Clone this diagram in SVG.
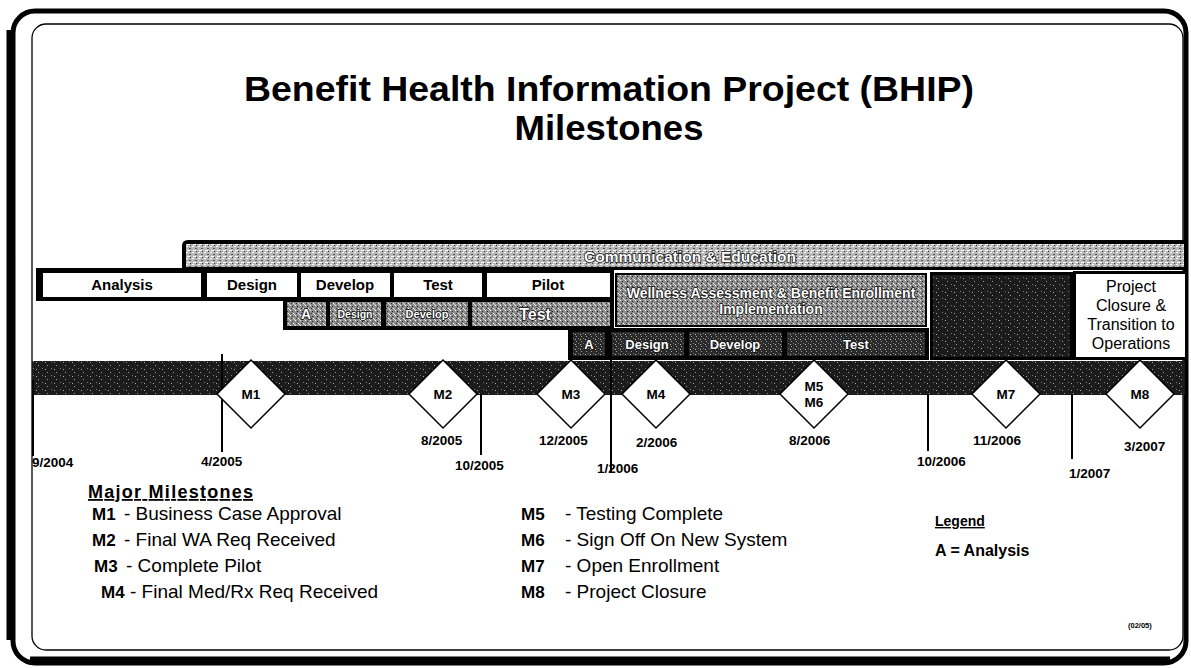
<svg xmlns="http://www.w3.org/2000/svg" width="1191" height="668" viewBox="0 0 1191 668">
<style>
text{font-family:"Liberation Sans",Arial,sans-serif;fill:#000}
.b{font-weight:bold}
.ph{font-size:15px;font-weight:bold;text-anchor:middle}
.gt{font-size:11px;font-weight:bold;text-anchor:middle;fill:#fff;stroke:#111;stroke-width:1.6px;paint-order:stroke}
.ms{font-size:13.5px;font-weight:bold;text-anchor:middle}
.dt{font-size:13.5px;font-weight:bold}
.li{font-size:19px}
.vl{stroke:#000;stroke-width:2}
.wb{fill:#fff;stroke:none}
</style>
<defs>
<pattern id="pl" width="6" height="6" patternUnits="userSpaceOnUse">
<rect width="6" height="6" fill="#b8b8b8"/>
<rect x="0" y="0" width="2" height="1" fill="#fff"/><rect x="3" y="2" width="2" height="1" fill="#555"/><rect x="1" y="4" width="3" height="1" fill="#fff"/><rect x="4" y="5" width="1" height="1" fill="#333"/>
</pattern>
<pattern id="pm" width="5" height="5" patternUnits="userSpaceOnUse">
<rect width="5" height="5" fill="#8c8c8c"/>
<rect x="0" y="0" width="1" height="1" fill="#fff"/><rect x="2" y="1" width="1" height="1" fill="#222"/><rect x="3" y="3" width="1" height="1" fill="#eee"/><rect x="1" y="3" width="1" height="1" fill="#333"/><rect x="4" y="4" width="1" height="1" fill="#ddd"/>
</pattern>
<pattern id="pd" width="5" height="5" patternUnits="userSpaceOnUse">
<rect width="5" height="5" fill="#2a2a2a"/>
<rect x="1" y="1" width="1" height="1" fill="#999"/><rect x="3" y="3" width="1" height="1" fill="#777"/><rect x="0" y="4" width="1" height="1" fill="#bbb"/>
</pattern>
<pattern id="pt" width="9" height="7" patternUnits="userSpaceOnUse">
<rect width="9" height="7" fill="#1c1c1c"/>
<rect x="2" y="1" width="1" height="1" fill="#999"/><rect x="6" y="4" width="1" height="1" fill="#777"/><rect x="0" y="5" width="1" height="1" fill="#aaa"/>
</pattern>
</defs>

<rect width="1191" height="668" fill="#fff"/>
<!-- frame -->
<rect x="13" y="11" width="1173" height="652" rx="22" fill="none" stroke="#000" stroke-width="5"/>
<path d="M10,30 V640" stroke="#000" stroke-width="7"/>
<path d="M30,659 H1170" stroke="#000" stroke-width="5"/>
<rect x="32" y="24" width="1151" height="626" rx="14" fill="none" stroke="#000" stroke-width="1.3"/>

<g id="title">
<text x="609" y="101" class="b" font-size="34.5" text-anchor="middle" textLength="730" lengthAdjust="spacingAndGlyphs">Benefit Health Information Project (BHIP)</text>
<text x="609" y="140" class="b" font-size="34.5" text-anchor="middle" textLength="189" lengthAdjust="spacingAndGlyphs">Milestones</text>
</g>

<g id="comm">
<path d="M182,270 V246 Q182,240 188,240 H1187 V270 Z" fill="#000"/>
<rect x="186" y="244" width="998" height="23" fill="url(#pl)"/>
<text x="690" y="262" class="gt" style="font-size:15.5px">Communication &amp; Education</text>
</g>

<rect x="36" y="268" width="578" height="33" fill="#000"/>
<rect x="283" y="298" width="331" height="32" fill="#000"/>
<rect x="568" y="328" width="361" height="32" fill="#000"/>

<g id="analysis"><rect x="43" y="273" width="158" height="24" class="wb"/><text x="122" y="290" class="ph">Analysis</text></g>
<g id="design"><rect x="207" y="273" width="90" height="24" class="wb"/><text x="252" y="290" class="ph">Design</text></g>
<g id="develop"><rect x="301" y="273" width="89" height="24" class="wb"/><text x="345" y="290" class="ph">Develop</text></g>
<g id="test"><rect x="394" y="273" width="88" height="24" class="wb"/><text x="438" y="290" class="ph">Test</text></g>
<g id="pilot"><rect x="487" y="273" width="123" height="24" class="wb"/><text x="548" y="290" class="ph">Pilot</text></g>

<g id="r3a"><rect x="287" y="302" width="39" height="24" fill="url(#pm)"/><text x="306" y="319" class="gt" style="font-size:14px">A</text></g>
<g id="r3design"><rect x="330" y="302" width="51" height="24" fill="url(#pm)"/><text x="355" y="318" class="gt" style="font-size:10.5px">Design</text></g>
<g id="r3develop"><rect x="386" y="302" width="82" height="24" fill="url(#pm)"/><text x="427" y="318" class="gt" style="font-size:11px">Develop</text></g>
<g id="r3test"><rect x="472" y="302" width="138" height="24" fill="url(#pm)"/><text x="535" y="320" class="gt" style="font-size:16px">Test</text></g>

<g id="wellness"><rect x="615" y="273" width="312" height="54" fill="#000"/><rect x="617" y="275" width="308" height="50" fill="url(#pm)"/>
<text x="771" y="298" class="gt" style="font-size:14px">Wellness Assessment &amp; Benefit Enrollment</text>
<text x="771" y="314" class="gt" style="font-size:14px">Implementation</text></g>

<g id="r4a"><rect x="573" y="332" width="32" height="24" fill="url(#pd)"/><text x="589" y="349" class="gt" style="font-size:13px">A</text></g>
<g id="r4design"><rect x="611" y="332" width="73" height="24" fill="url(#pd)"/><text x="647" y="349" class="gt" style="font-size:13px">Design</text></g>
<g id="r4develop"><rect x="689" y="332" width="93" height="24" fill="url(#pd)"/><text x="735" y="349" class="gt" style="font-size:13px">Develop</text></g>
<g id="r4test"><rect x="787" y="332" width="138" height="24" fill="url(#pd)"/><text x="856" y="349" class="gt" style="font-size:13px">Test</text></g>

<g id="enroll"><rect x="930" y="272" width="143" height="88" fill="#000"/><rect x="933" y="275" width="137" height="82" fill="url(#pt)"/></g>

<g id="closure"><rect x="1073" y="271" width="114" height="89" fill="#000"/><rect x="1076" y="274" width="109" height="83" fill="#fff"/>
<text x="1131" y="292" text-anchor="middle" font-size="16">Project</text>
<text x="1131" y="311" text-anchor="middle" font-size="16">Closure &amp;</text>
<text x="1131" y="330" text-anchor="middle" font-size="16">Transition to</text>
<text x="1131" y="349" text-anchor="middle" font-size="16">Operations</text></g>

<rect x="32" y="361" width="1153" height="34" fill="url(#pt)"/>

<g id="connectors">
<line x1="33" y1="380" x2="33" y2="456" class="vl"/>
<line x1="222" y1="354" x2="222" y2="452" class="vl"/>
<line x1="481" y1="394" x2="481" y2="455" class="vl"/>
<line x1="611" y1="335" x2="611" y2="472" class="vl"/>
<line x1="928" y1="394" x2="928" y2="451" class="vl"/>
<line x1="1072" y1="394" x2="1072" y2="459" class="vl"/>
</g>

<g id="m1"><polygon points="251,360 285,394 251,428 217,394" fill="#fff" stroke="#000" stroke-width="1.5"/><text x="251" y="399" class="ms">M1</text></g>
<g id="m2"><polygon points="443,360 477,394 443,428 409,394" fill="#fff" stroke="#000" stroke-width="1.5"/><text x="443" y="399" class="ms">M2</text></g>
<g id="m3"><polygon points="571,360 605,394 571,428 537,394" fill="#fff" stroke="#000" stroke-width="1.5"/><text x="571" y="399" class="ms">M3</text></g>
<g id="m4"><polygon points="656,360 690,394 656,428 622,394" fill="#fff" stroke="#000" stroke-width="1.5"/><text x="656" y="399" class="ms">M4</text></g>
<g id="m56"><polygon points="814,360 848,394 814,428 780,394" fill="#fff" stroke="#000" stroke-width="1.5"/><text x="814" y="391" class="ms">M5</text><text x="814" y="407" class="ms">M6</text></g>
<g id="m7"><polygon points="1006,360 1040,394 1006,428 972,394" fill="#fff" stroke="#000" stroke-width="1.5"/><text x="1006" y="399" class="ms">M7</text></g>
<g id="m8"><polygon points="1140,360 1174,394 1140,428 1106,394" fill="#fff" stroke="#000" stroke-width="1.5"/><text x="1140" y="399" class="ms">M8</text></g>

<g id="dates">
<text x="32" y="467" class="dt">9/2004</text>
<text x="201" y="466" class="dt">4/2005</text>
<text x="421" y="445" class="dt">8/2005</text>
<text x="539" y="445" class="dt">12/2005</text>
<text x="455" y="470" class="dt">10/2005</text>
<text x="597" y="473" class="dt">1/2006</text>
<text x="636" y="447" class="dt">2/2006</text>
<text x="789" y="445" class="dt">8/2006</text>
<text x="973" y="445" class="dt">11/2006</text>
<text x="917" y="466" class="dt">10/2006</text>
<text x="1069" y="478" class="dt">1/2007</text>
<text x="1124" y="451" class="dt">3/2007</text>
</g>

<g id="milestones">
<text x="88" y="498" class="b" font-size="18" textLength="165" text-decoration="underline">Major Milestones</text>
<text x="92" y="520" class="li"><tspan class="b" font-size="17">M1</tspan><tspan x="124">- Business Case Approval</tspan></text>
<text x="92" y="546" class="li"><tspan class="b" font-size="17">M2</tspan><tspan x="124">- Final WA Req Received</tspan></text>
<text x="94" y="572" class="li"><tspan class="b" font-size="17">M3</tspan><tspan x="126">- Complete Pilot</tspan></text>
<text x="101" y="598" class="li"><tspan class="b" font-size="17">M4</tspan><tspan x="130">- Final Med/Rx Req Received</tspan></text>
<text x="521" y="520" class="li"><tspan class="b" font-size="17">M5</tspan><tspan x="565">- Testing Complete</tspan></text>
<text x="521" y="546" class="li"><tspan class="b" font-size="17">M6</tspan><tspan x="565">- Sign Off On New System</tspan></text>
<text x="521" y="572" class="li"><tspan class="b" font-size="17">M7</tspan><tspan x="565">- Open Enrollment</tspan></text>
<text x="521" y="598" class="li"><tspan class="b" font-size="17">M8</tspan><tspan x="565">- Project Closure</tspan></text>
</g>

<g id="legend">
<text x="935" y="526" class="b" font-size="14" text-decoration="underline">Legend</text>
<text x="935" y="556" class="b" font-size="16">A = Analysis</text>
<text x="1128" y="628" class="b" font-size="7.5">(02/05)</text>
</g>
</svg>
